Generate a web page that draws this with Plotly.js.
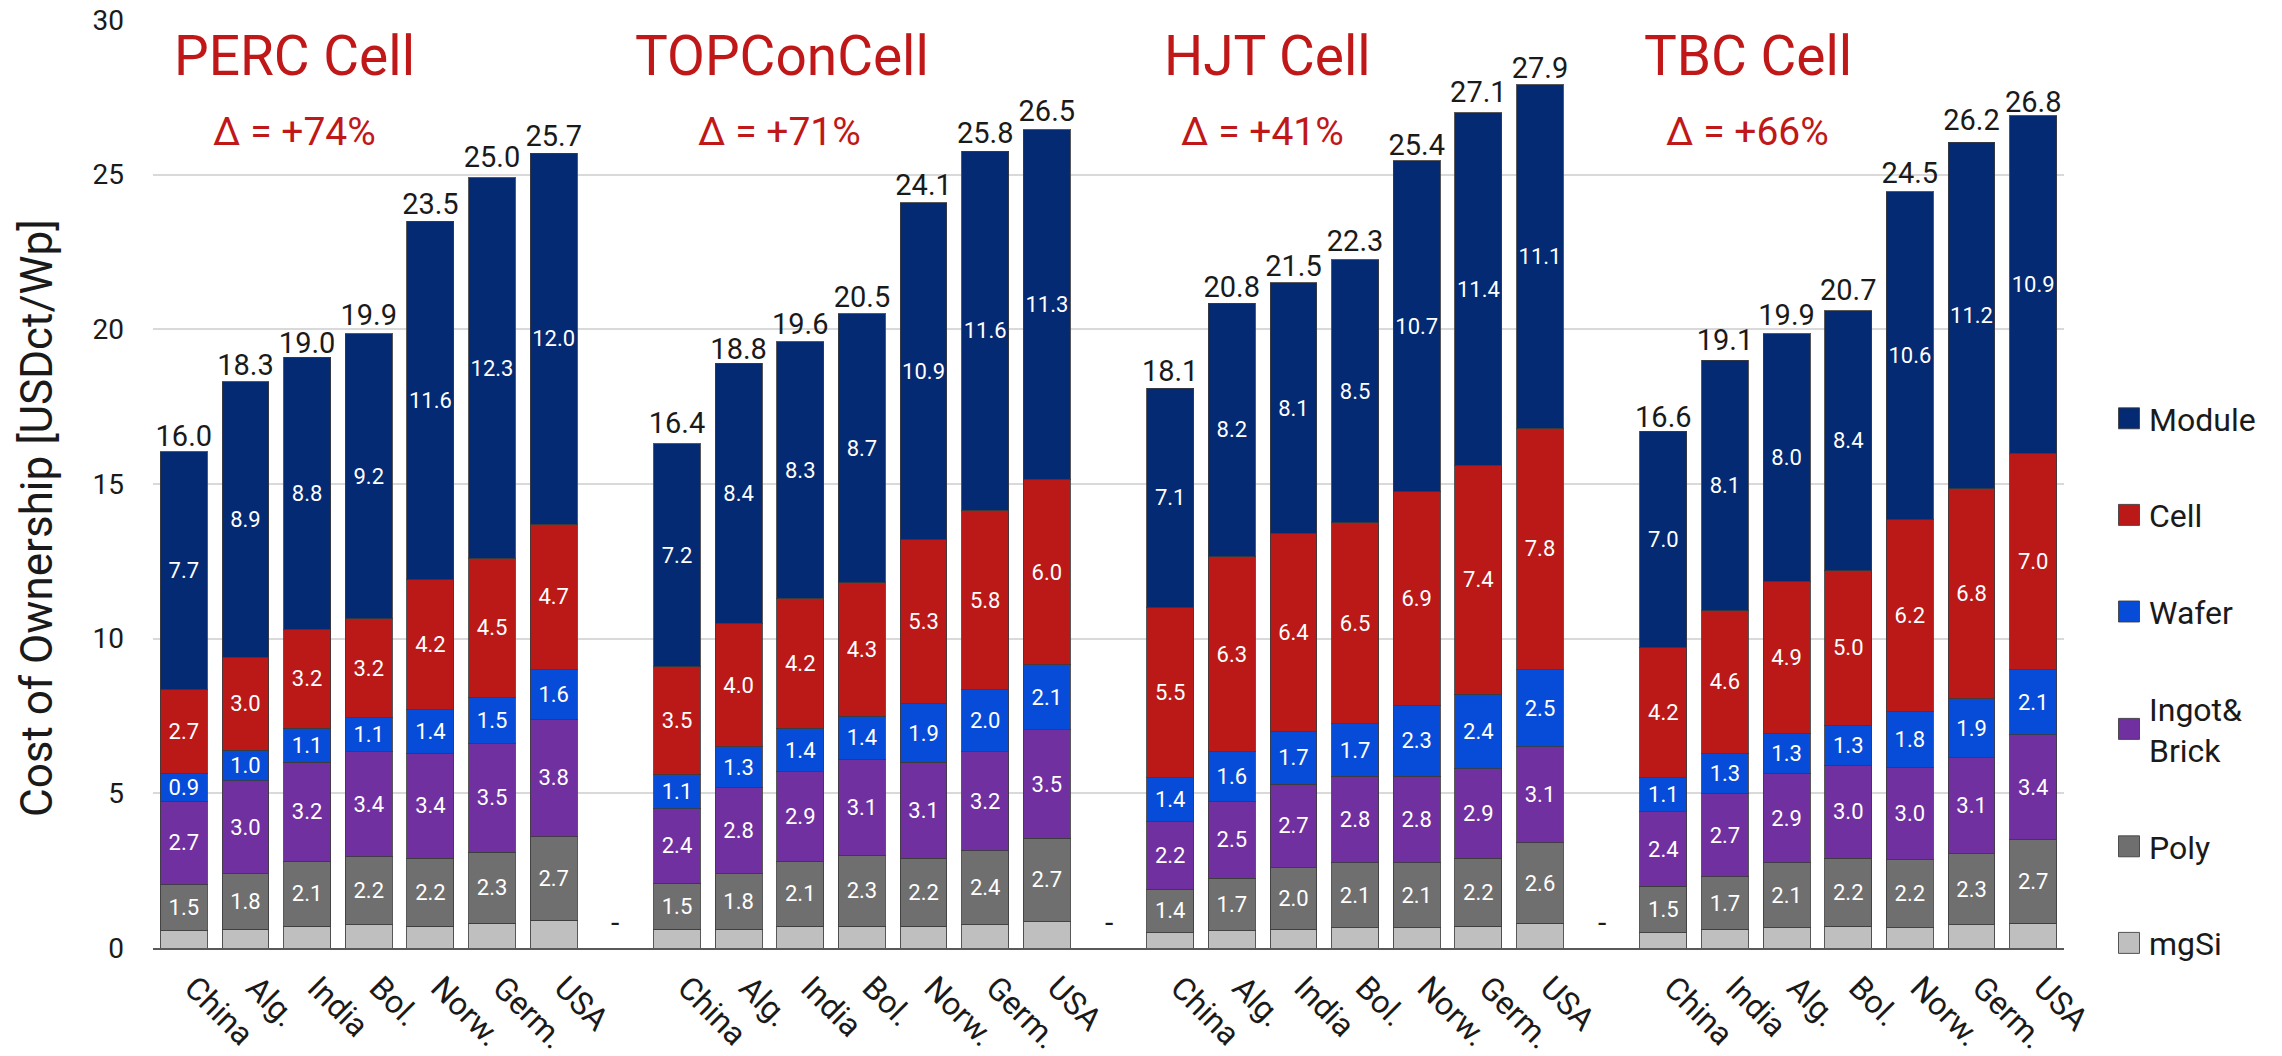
<!DOCTYPE html>
<html>
<head>
<meta charset="utf-8">
<script src="https://cdn.plot.ly/plotly-3.0.1.min.js"></script>
<style>
  html, body { margin: 0; padding: 0; background: #ffffff; }
  #chart { width: 2282px; height: 1056px; }
</style>
</head>
<body>
<div id="chart"></div>
<script>
// ---------- data ----------
const groupNames = ['PERC', 'TOPCon', 'HJT', 'TBC'];
const groupTitles = ['PERC Cell', 'TOPConCell', 'HJT Cell', 'TBC Cell'];
const groupDeltas = ['Δ = +74%', 'Δ = +71%', 'Δ = +41%', 'Δ = +66%'];

const countriesPERC   = ['China', 'Alg.', 'India', 'Bol.', 'Norw.', 'Germ.', 'USA'];
const countriesTOPCon = ['China', 'Alg.', 'India', 'Bol.', 'Norw.', 'Germ.', 'USA'];
const countriesHJT    = ['China', 'Alg.', 'India', 'Bol.', 'Norw.', 'Germ.', 'USA'];
const countriesTBC    = ['China', 'India', 'Alg.', 'Bol.', 'Norw.', 'Germ.', 'USA'];

const seriesNames = ['mgSi', 'Poly', 'Ingot&<br>Brick', 'Wafer', 'Cell', 'Module'];
const yTitle = 'Cost of Ownership [USDct/Wp]';

// values per group, in the country order above
const modulePERC = [7.7, 8.9, 8.8, 9.2, 11.6, 12.3, 12.0];
const cellPERC   = [2.7, 3.0, 3.2, 3.2, 4.2, 4.5, 4.7];
const waferPERC  = [0.9, 1.0, 1.1, 1.1, 1.4, 1.5, 1.6];
const ingotPERC  = [2.7, 3.0, 3.2, 3.4, 3.4, 3.5, 3.8];
const polyPERC   = [1.5, 1.8, 2.1, 2.2, 2.2, 2.3, 2.7];
const mgsiPERC   = [0.55, 0.6, 0.7, 0.75, 0.7, 0.8, 0.9];
const totalPERC  = [16.0, 18.3, 19.0, 19.9, 23.5, 25.0, 25.7];

const moduleTOPCon = [7.2, 8.4, 8.3, 8.7, 10.9, 11.6, 11.3];
const cellTOPCon   = [3.5, 4.0, 4.2, 4.3, 5.3, 5.8, 6.0];
const waferTOPCon  = [1.1, 1.3, 1.4, 1.4, 1.9, 2.0, 2.1];
const ingotTOPCon  = [2.4, 2.8, 2.9, 3.1, 3.1, 3.2, 3.5];
const polyTOPCon   = [1.5, 1.8, 2.1, 2.3, 2.2, 2.4, 2.7];
const mgsiTOPCon   = [0.6, 0.6, 0.7, 0.7, 0.7, 0.75, 0.85];
const totalTOPCon  = [16.4, 18.8, 19.6, 20.5, 24.1, 25.8, 26.5];

const moduleHJT = [7.1, 8.2, 8.1, 8.5, 10.7, 11.4, 11.1];
const cellHJT   = [5.5, 6.3, 6.4, 6.5, 6.9, 7.4, 7.8];
const waferHJT  = [1.4, 1.6, 1.7, 1.7, 2.3, 2.4, 2.5];
const ingotHJT  = [2.2, 2.5, 2.7, 2.8, 2.8, 2.9, 3.1];
const polyHJT   = [1.4, 1.7, 2.0, 2.1, 2.1, 2.2, 2.6];
const mgsiHJT   = [0.5, 0.55, 0.6, 0.65, 0.65, 0.7, 0.8];
const totalHJT  = [18.1, 20.8, 21.5, 22.3, 25.4, 27.1, 27.9];

const moduleTBC = [7.0, 8.1, 8.0, 8.4, 10.6, 11.2, 10.9];
const cellTBC   = [4.2, 4.6, 4.9, 5.0, 6.2, 6.8, 7.0];
const waferTBC  = [1.1, 1.3, 1.3, 1.3, 1.8, 1.9, 2.1];
const ingotTBC  = [2.4, 2.7, 2.9, 3.0, 3.0, 3.1, 3.4];
const polyTBC   = [1.5, 1.7, 2.1, 2.2, 2.2, 2.3, 2.7];
const mgsiTBC   = [0.5, 0.6, 0.65, 0.7, 0.65, 0.75, 0.8];
const totalTBC  = [16.6, 19.1, 19.9, 20.7, 24.5, 26.2, 26.8];

// ---------- assemble (separator category between groups) ----------
const countryLists = [countriesPERC, countriesTOPCon, countriesHJT, countriesTBC];
const byGroup = {
  mgSi:   [mgsiPERC, mgsiTOPCon, mgsiHJT, mgsiTBC],
  Poly:   [polyPERC, polyTOPCon, polyHJT, polyTBC],
  Ingot:  [ingotPERC, ingotTOPCon, ingotHJT, ingotTBC],
  Wafer:  [waferPERC, waferTOPCon, waferHJT, waferTBC],
  Cell:   [cellPERC, cellTOPCon, cellHJT, cellTBC],
  Module: [modulePERC, moduleTOPCon, moduleHJT, moduleTBC],
  Total:  [totalPERC, totalTOPCon, totalHJT, totalTBC]
};

const xIds = [], xLabels = [], sepIds = [];
groupNames.forEach((g, gi) => {
  countryLists[gi].forEach(c => { xIds.push(g + ' · ' + c); xLabels.push(c); });
  if (gi < groupNames.length - 1) {
    const s = 'sep' + gi; xIds.push(s); xLabels.push(''); sepIds.push(s);
  }
});
function flat(key) {
  const out = [];
  byGroup[key].forEach((arr, gi) => {
    arr.forEach(v => out.push(v));
    if (gi < groupNames.length - 1) out.push(null);
  });
  return out;
}

const FONT = 'Roboto, "Noto Sans", sans-serif';
const colors = {
  mgSi: '#bfbfbf', Poly: '#6f6f6f', Ingot: '#7030a0',
  Wafer: '#074bd9', Cell: '#bb1818', Module: '#032a72'
};
const keys = ['mgSi', 'Poly', 'Ingot', 'Wafer', 'Cell', 'Module'];

const traces = keys.map((k, i) => {
  const vals = flat(k);
  return {
    type: 'bar', name: seriesNames[i], x: xIds, y: vals,
    legendgroup: k, legendrank: keys.length - i,
    marker: { color: colors[k], line: { color: 'rgba(60,60,60,0.85)', width: 1 } },
    text: k === 'mgSi' ? vals.map(() => '') : vals.map(v => v == null ? '' : v.toFixed(1)),
    textposition: 'inside', insidetextanchor: 'middle', textangle: 0,
    textfont: { family: FONT, size: 22, color: '#ffffff' },
    hoverinfo: 'skip'
  };
});

const totals = flat('Total');
traces.push({
  type: 'scatter', mode: 'text', x: xIds, y: totals, showlegend: false,
  text: totals.map(v => v == null ? '' : v.toFixed(1)),
  textposition: 'top center',
  textfont: { family: FONT, size: 29, color: '#1a1a1a' },
  hoverinfo: 'skip', cliponaxis: false
});

// ---------- layout ----------
const plotL = 153, plotR = 2064, plotT = 20, plotB = 948;
const px = v => (v - plotL) / (plotR - plotL);
const py = v => (plotB - v) / (plotB - plotT);

const titleLeft = [172, 633, 1162, 1642];
const deltaCenter = [294, 779, 1262, 1747];
const annotations = [];
groupTitles.forEach((t, i) => {
  annotations.push({ xref: 'paper', yref: 'paper', x: px(titleLeft[i]), y: py(56), xanchor: 'left', yanchor: 'middle',
    text: t, showarrow: false, font: { family: FONT, size: 55, color: '#c01818' } });
  annotations.push({ xref: 'paper', yref: 'paper', x: px(deltaCenter[i]), y: py(132), xanchor: 'center', yanchor: 'middle',
    text: groupDeltas[i], showarrow: false, font: { family: FONT, size: 39, color: '#c01818' } });
});
sepIds.forEach(s => {
  annotations.push({ x: s, y: 0, xref: 'x', yref: 'y', yshift: 26, text: '-', showarrow: false,
    font: { family: FONT, size: 30, color: '#1a1a1a' } });
});
// y axis title (placed to match the reference's vertical centring)
annotations.push({ xref: 'paper', yref: 'paper', x: px(37), y: py(518), xanchor: 'center', yanchor: 'middle',
  text: yTitle, textangle: -90, showarrow: false, font: { family: FONT, size: 44, color: '#1a1a1a' } });

const layout = {
  width: 2282, height: 1056,
  margin: { l: plotL, r: 2282 - plotR, t: plotT, b: 1056 - plotB },
  paper_bgcolor: '#ffffff', plot_bgcolor: '#ffffff',
  barmode: 'stack', bargap: 0.24,
  font: { family: FONT, color: '#1a1a1a' },
  uniformtext: { mode: 'show', minsize: 22 },
  xaxis: {
    type: 'category', categoryorder: 'array', categoryarray: xIds,
    tickmode: 'array', tickvals: xIds, ticktext: xLabels,
    tickangle: 45, tickfont: { family: FONT, size: 32, color: '#1a1a1a' },
    ticklabelshift: 10, ticklabelstandoff: 6,
    ticks: '', showgrid: false, showline: true, linecolor: '#595959', linewidth: 2,
    range: [-0.5, xIds.length - 0.5], fixedrange: true
  },
  yaxis: {
    range: [0, 30], dtick: 5, tick0: 0, ticks: '',
    tickfont: { family: FONT, size: 28, color: '#1a1a1a' },
    ticklabelstandoff: 28,
    gridcolor: '#d9d9d9', gridwidth: 2, zeroline: false, showline: false,
    fixedrange: true
  },
  showlegend: true,
  legend: {
    x: px(2109), y: py(391), xanchor: 'left', yanchor: 'top',
    traceorder: 'grouped', tracegroupgap: 52,
    font: { family: FONT, size: 32, color: '#1a1a1a' },
    bgcolor: 'rgba(0,0,0,0)', borderwidth: 0
  },
  annotations: annotations
};

Plotly.newPlot('chart', traces, layout, { staticPlot: true, displayModeBar: false }).then(() => {
  document.querySelectorAll('#chart .legend .legendpoints path').forEach(p => {
    p.setAttribute('d', 'M10.5,10.5H-10.5V-10.5H10.5Z');
  });
});
</script>
</body>
</html>
